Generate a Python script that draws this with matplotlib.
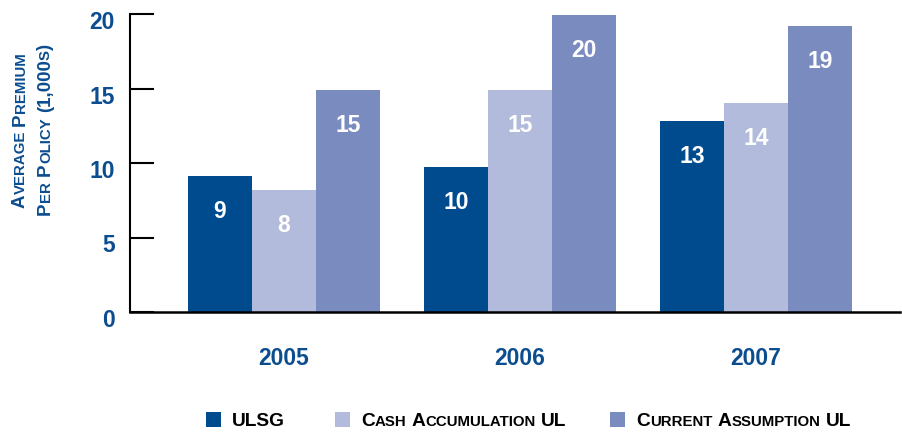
import matplotlib
matplotlib.use("Agg")
import matplotlib.pyplot as plt
import matplotlib.transforms as mtransforms
from matplotlib.patches import Rectangle
import numpy as np

plt.rcParams['font.family'] = ['Liberation Sans', 'DejaVu Sans']
plt.rcParams['font.weight'] = 'bold'

years = ['2005', '2006', '2007']
series = ['ULSG', 'Cash Accumulation UL', 'Current Assumption UL']
ulsg = [9.1, 9.75, 12.8]
cash_acc = [8.2, 14.9, 14.0]
current_ass = [14.9, 19.9, 19.2]
colors = ['#004B8D', '#B2BBDB', '#7A8BBF']
blue_txt = '#0B4D8F'

W, H = 902, 433
fig = plt.figure(figsize=(W / 100, H / 100), dpi=100)
ax = fig.add_axes([130 / W, 121 / H, 770 / W, 298 / H])

x = np.arange(len(years))
bw = 0.272
for i, vals in enumerate([ulsg, cash_acc, current_ass]):
    bars = ax.bar(x + (i - 1) * bw, vals, bw, color=colors[i], linewidth=0)
    for b, v in zip(bars, vals):
        ax.annotate(str(int(round(v))), (b.get_x() + b.get_width() / 2, v),
                    xytext=(0, -25.5), textcoords='offset points',
                    ha='center', va='center', color='white',
                    fontsize=16.5, fontweight='bold')

ax.set_xlim(-0.653, 2.61)
ax.set_ylim(0, 20)
ax.set_yticks([0, 5, 10, 15, 20])
ax.set_xticks(x)
ax.set_xticklabels(years)
for s in ['top', 'right']:
    ax.spines[s].set_visible(False)
ax.spines['left'].set_linewidth(1.5)
ax.spines['bottom'].set_linewidth(1.8)
ax.tick_params(axis='y', direction='in', length=17, width=1.5, pad=11,
               labelsize=16.5, labelcolor=blue_txt)
ax.tick_params(axis='x', length=0, pad=25, labelsize=16.5, labelcolor=blue_txt)
shift = mtransforms.ScaledTranslation(0, -6 / 100, fig.dpi_scale_trans)
for lab in ax.get_yticklabels():
    lab.set_transform(lab.get_transform() + shift)
    lab.set_fontweight('bold')
for lab in ax.get_xticklabels():
    lab.set_fontweight('bold')


# small caps text, positions in pixels from the top left corner
def small_caps(px, py, s, big, small, color, rotation=0, ha='left'):
    runs = []
    for ch in s:
        kind = 'sp' if ch == ' ' else ('sm' if ch.islower() else 'bg')
        if runs and runs[-1][0] == kind:
            runs[-1][1] += ch
        else:
            runs.append([kind, ch])
    r = fig.canvas.get_renderer()
    items = []
    for kind, txt in runs:
        if kind == 'sp':
            items.append((None, len(txt) * 0.278 * big * 100 / 72))
            continue
        t = fig.text(0, 0, txt.upper(), fontsize=big if kind == 'bg' else small,
                     fontweight='bold', color=color, rotation=rotation,
                     rotation_mode='anchor', ha='left', va='baseline',
                     transform=mtransforms.IdentityTransform())
        bb = t.get_window_extent(r)
        items.append((t, bb.height if rotation == 90 else bb.width))
    total = sum(a for _, a in items)
    if ha == 'center':
        start = -total / 2
    else:
        start = 0
    pos = start
    for t, adv in items:
        if t is not None:
            if rotation == 90:
                t.set_position((px, H - py + pos))
            else:
                t.set_position((px + pos, H - py))
        pos += adv


# y label
small_caps(25, 130, 'Average Premium', 13.5, 10.8, blue_txt, rotation=90, ha='center')
small_caps(50, 129, 'Per Policy (1,000s)', 13.5, 10.8, blue_txt, rotation=90, ha='center')

# legend
sq_x = [206, 335, 610]
for i, name in enumerate(series):
    fig.add_artist(Rectangle((sq_x[i] / W, (H - 427) / H), 15 / W, 15 / H,
                             transform=fig.transFigure, color=colors[i], lw=0))
    small_caps(sq_x[i] + 26, 426, name, 13.8, 10.8, 'black')

fig.savefig('out.png', dpi=100)
